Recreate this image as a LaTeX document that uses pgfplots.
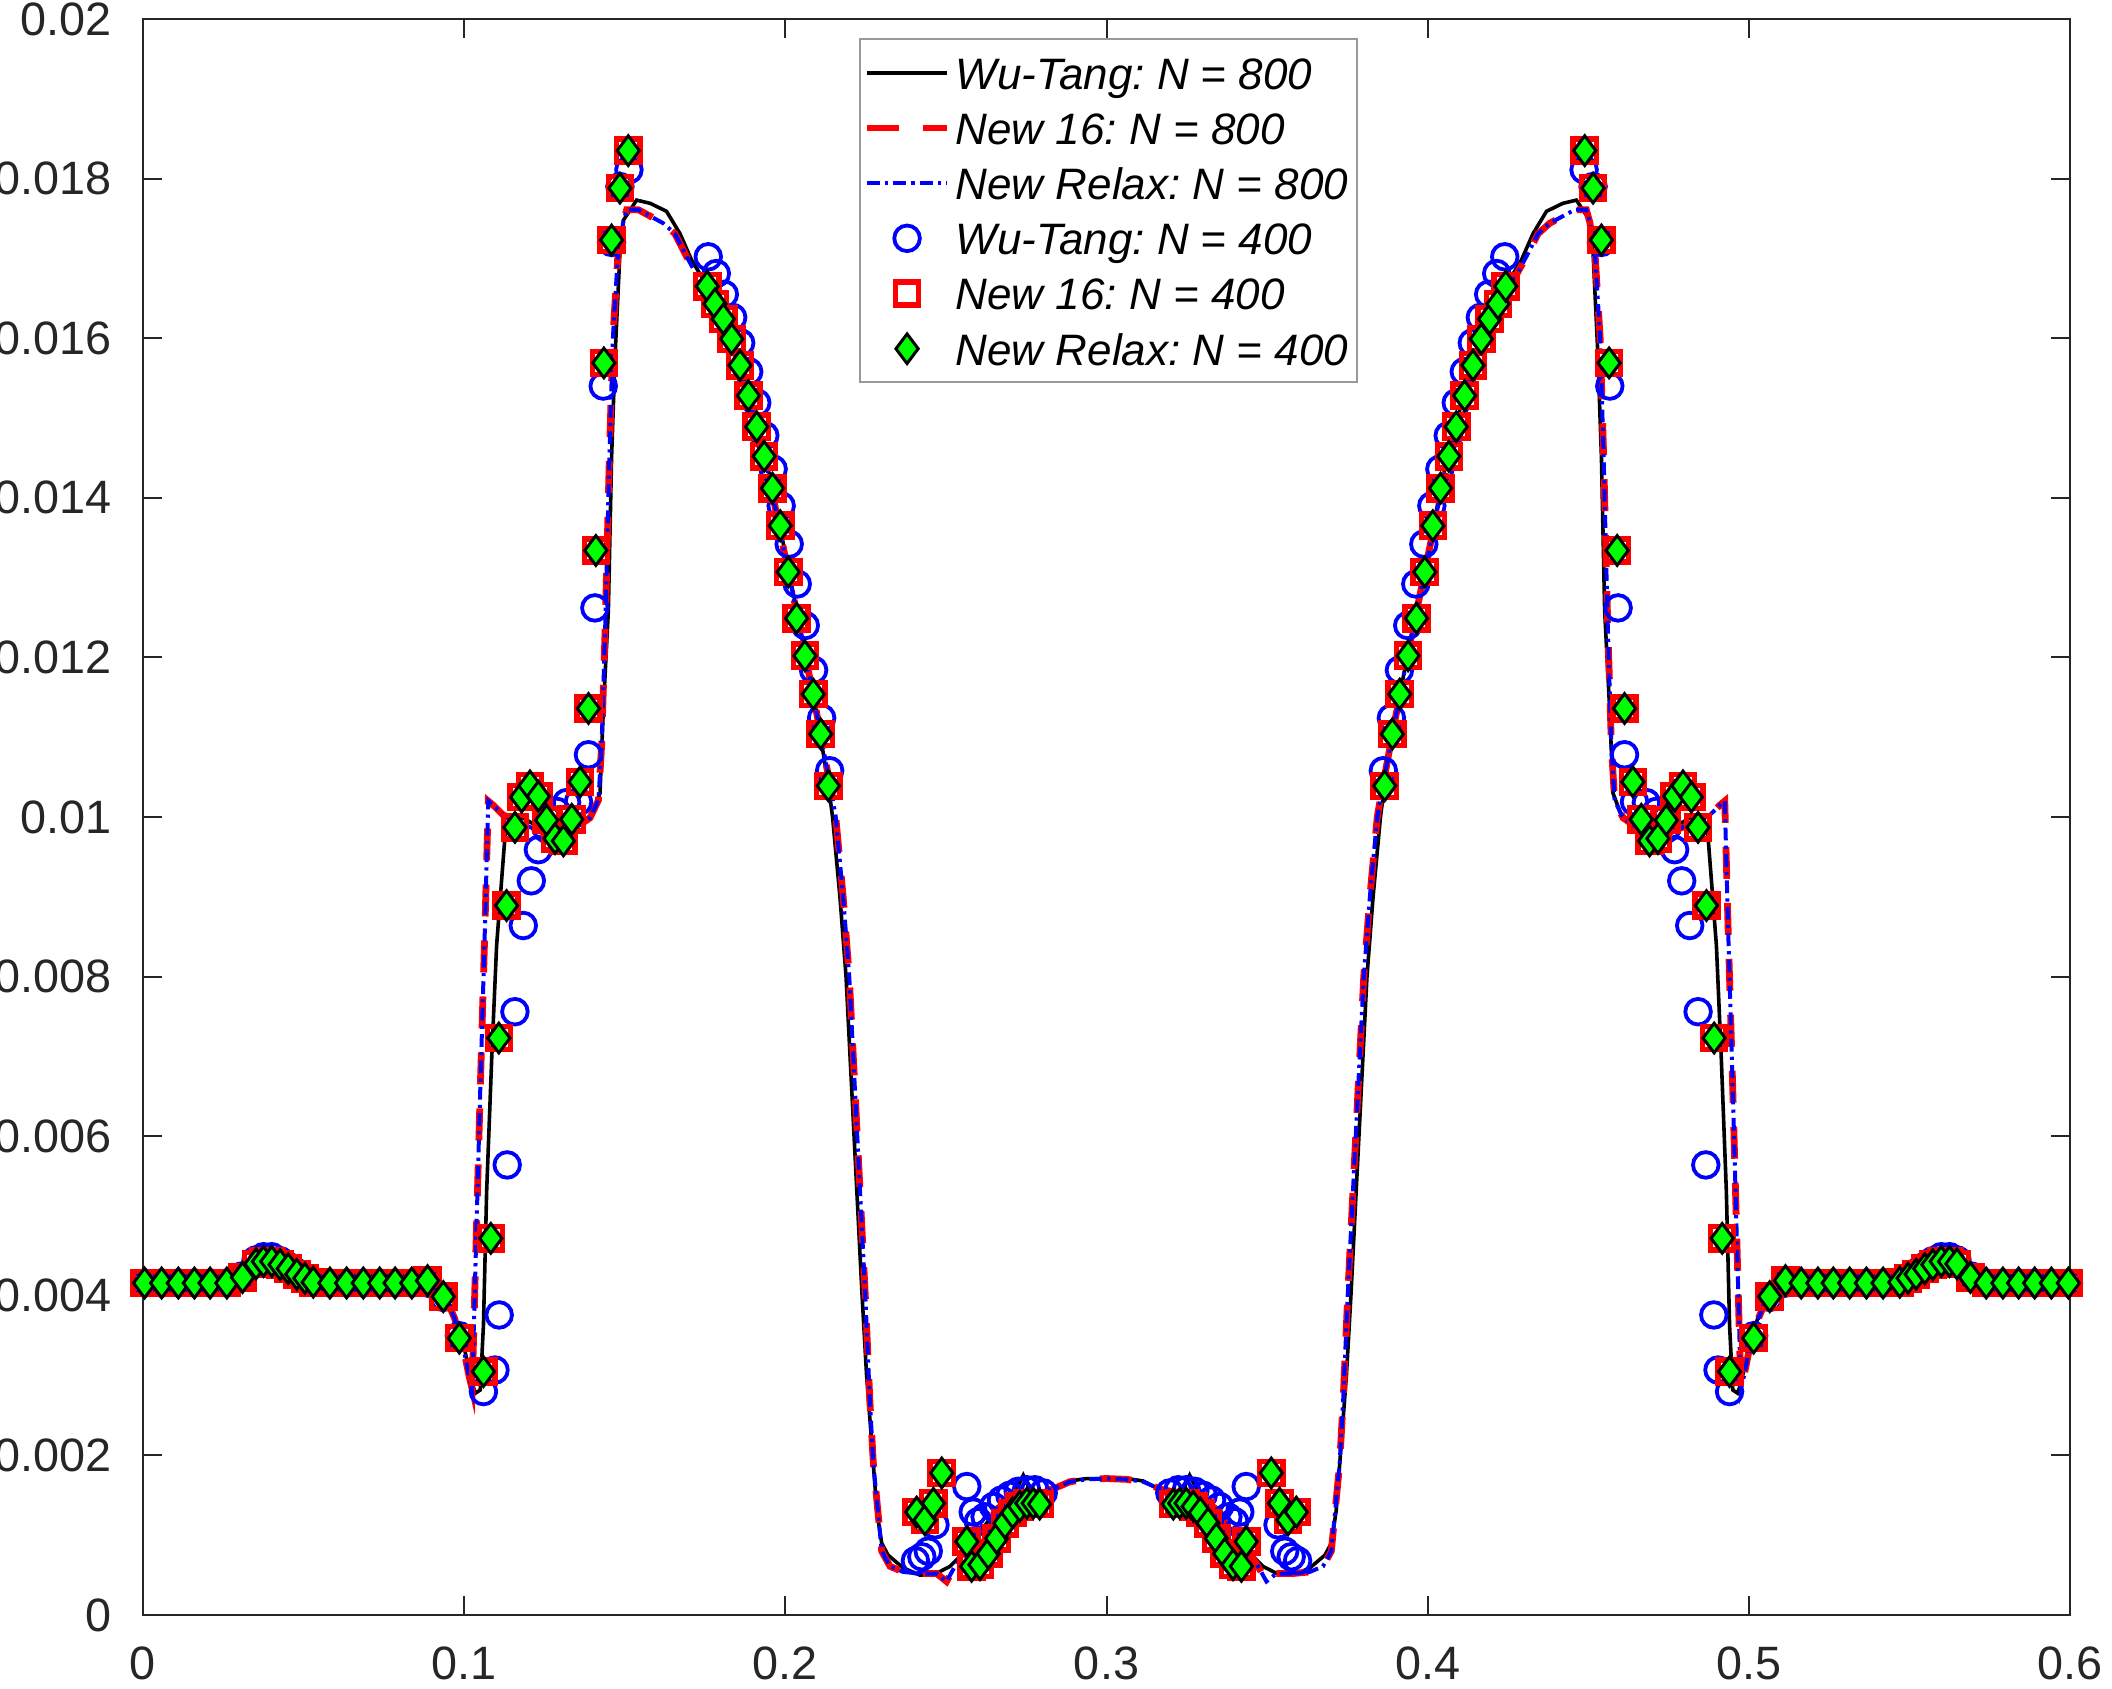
\documentclass[border=0pt]{standalone}
\usepackage{pgfplots}
\pgfplotsset{compat=1.18}
\usepackage{pgfplotstable}
\usepackage{fontspec}
\setmainfont{Liberation Sans}

\definecolor{axgray}{gray}{0.15}
\definecolor{leggray}{gray}{0.6}
\definecolor{mblue}{rgb}{0,0,1}
\definecolor{mred}{rgb}{1,0,0}
\definecolor{mgreen}{rgb}{0,1,0}

% Wu-Tang scheme, N = 800
\pgfplotstableread{
x y
0 0.00416
0.028 0.00416
0.031 0.00420
0.034 0.00437
0.037 0.00449
0.040 0.00450
0.043 0.00443
0.046 0.00433
0.049 0.00425
0.052 0.00419
0.055 0.00416
0.088 0.00416
0.091 0.00413
0.094 0.00400
0.097 0.00375
0.100 0.00335
0.1025 0.00290
0.1035 0.00278
0.1050 0.00282
0.1060 0.00363
0.1070 0.00531
0.1086 0.00700
0.1101 0.00839
0.1117 0.00923
0.1127 0.00975
0.1140 0.00998
0.1170 0.01002
0.1200 0.00995
0.1240 0.00985
0.1280 0.00978
0.1320 0.00980
0.1360 0.00990
0.1400 0.01005
0.1423 0.01030
0.1433 0.01132
0.1449 0.01259
0.1459 0.01451
0.1470 0.01579
0.1485 0.01707
0.1496 0.01748
0.1537 0.01773
0.1579 0.01769
0.1630 0.01759
0.1672 0.01731
0.1708 0.01698
0.1750 0.01670
0.1800 0.01630
0.1850 0.01580
0.1900 0.01510
0.1950 0.01430
0.2000 0.01330
0.2050 0.01230
0.2100 0.01125
0.2134 0.01040
0.2147 0.01000
0.2170 0.00900
0.2189 0.00800
0.2214 0.00600
0.2239 0.00400
0.2253 0.00300
0.2270 0.00210
0.2285 0.00130
0.2300 0.00090
0.2320 0.00075
0.2367 0.00059
0.2419 0.00050
0.2460 0.00050
0.2513 0.00061
0.2560 0.00080
0.2600 0.00100
0.2650 0.00128
0.2700 0.00150
0.2725 0.00162
0.2741 0.00175
0.2760 0.00158
0.2800 0.00153
0.2834 0.00157
0.2886 0.00168
0.2938 0.00171
0.3000 0.00171
0.3062 0.00171
0.3114 0.00168
0.3166 0.00157
0.3200 0.00153
0.3240 0.00158
0.3259 0.00175
0.3275 0.00162
0.3300 0.00150
0.3350 0.00128
0.3400 0.00100
0.3440 0.00080
0.3487 0.00061
0.3540 0.00050
0.3581 0.00050
0.3633 0.00059
0.3680 0.00075
0.3700 0.00090
0.3715 0.00130
0.3730 0.00210
0.3747 0.00300
0.3761 0.00400
0.3786 0.00600
0.3811 0.00800
0.3830 0.00900
0.3853 0.01000
0.3866 0.01040
0.3900 0.01125
0.3950 0.01230
0.4000 0.01330
0.4050 0.01430
0.4100 0.01510
0.4150 0.01580
0.4200 0.01630
0.4250 0.01670
0.4292 0.01698
0.4328 0.01731
0.4370 0.01759
0.4421 0.01769
0.4463 0.01773
0.4504 0.01748
0.4515 0.01707
0.4530 0.01579
0.4541 0.01451
0.4551 0.01259
0.4567 0.01132
0.4577 0.01030
0.4600 0.01005
0.4640 0.00990
0.4680 0.00980
0.4720 0.00978
0.4760 0.00985
0.4800 0.00995
0.4830 0.01002
0.4860 0.00998
0.4873 0.00975
0.4883 0.00923
0.4899 0.00839
0.4914 0.00700
0.4930 0.00531
0.4940 0.00363
0.4950 0.00282
0.4965 0.00278
0.4975 0.00290
0.5000 0.00335
0.5030 0.00375
0.5060 0.00400
0.5090 0.00413
0.5120 0.00416
0.5450 0.00416
0.5480 0.00419
0.5510 0.00425
0.5540 0.00433
0.5570 0.00443
0.5600 0.00450
0.5630 0.00449
0.5660 0.00437
0.5690 0.00420
0.5720 0.00416
0.6000 0.00416
}\wuFine

% New schemes (16 and Relax), N = 800
\pgfplotstableread{
x y
0 0.00416
0.028 0.00416
0.031 0.00420
0.034 0.00437
0.037 0.00449
0.040 0.00450
0.043 0.00443
0.046 0.00433
0.049 0.00425
0.052 0.00419
0.055 0.00416
0.088 0.00416
0.091 0.00412
0.094 0.00400
0.097 0.00372
0.100 0.00330
0.1015 0.00300
0.1025 0.00283
0.1034 0.00420
0.1049 0.00643
0.1065 0.00867
0.1075 0.01020
0.1090 0.01015
0.1120 0.01003
0.1160 0.00995
0.1200 0.00988
0.1240 0.00982
0.1280 0.00975
0.1320 0.00978
0.1360 0.00990
0.1392 0.00999
0.1418 0.01021
0.1428 0.01090
0.1440 0.01250
0.1452 0.01450
0.1463 0.01600
0.1478 0.01700
0.1495 0.01745
0.1506 0.01761
0.1542 0.01761
0.1620 0.01744
0.1656 0.01731
0.1693 0.01702
0.1750 0.01660
0.1800 0.01625
0.1850 0.01575
0.1900 0.01505
0.1950 0.01425
0.2000 0.01325
0.2050 0.01228
0.2100 0.01125
0.2144 0.01030
0.2157 0.01000
0.2180 0.00900
0.2199 0.00800
0.2224 0.00600
0.2249 0.00400
0.2263 0.00270
0.2274 0.00190
0.2300 0.00080
0.2326 0.00061
0.2367 0.00054
0.2420 0.00052
0.2471 0.00052
0.2502 0.00042
0.2528 0.00061
0.2560 0.00080
0.2600 0.00105
0.2650 0.00130
0.2700 0.00145
0.2750 0.00152
0.2800 0.00155
0.2834 0.00158
0.2886 0.00167
0.2938 0.00170
0.3000 0.00171
0.3062 0.00170
0.3114 0.00167
0.3166 0.00158
0.3200 0.00155
0.3250 0.00152
0.3300 0.00145
0.3350 0.00130
0.3400 0.00105
0.3440 0.00080
0.3472 0.00061
0.3498 0.00042
0.3529 0.00052
0.3580 0.00052
0.3633 0.00054
0.3674 0.00061
0.3700 0.00080
0.3726 0.00190
0.3737 0.00270
0.3751 0.00400
0.3776 0.00600
0.3801 0.00800
0.3820 0.00900
0.3843 0.01000
0.3856 0.01030
0.3900 0.01125
0.3950 0.01228
0.4000 0.01325
0.4050 0.01425
0.4100 0.01505
0.4150 0.01575
0.4200 0.01625
0.4250 0.01660
0.4307 0.01702
0.4344 0.01731
0.4380 0.01744
0.4458 0.01761
0.4494 0.01761
0.4505 0.01745
0.4522 0.01700
0.4537 0.01600
0.4548 0.01450
0.4560 0.01250
0.4572 0.01090
0.4582 0.01021
0.4608 0.00999
0.4640 0.00990
0.4680 0.00978
0.4720 0.00975
0.4760 0.00982
0.4800 0.00988
0.4840 0.00995
0.4880 0.01003
0.4910 0.01015
0.4925 0.01020
0.4935 0.00867
0.4951 0.00643
0.4966 0.00420
0.4975 0.00283
0.4985 0.00300
0.5000 0.00330
0.5030 0.00372
0.5060 0.00400
0.5090 0.00412
0.5120 0.00416
0.5450 0.00416
0.5480 0.00419
0.5510 0.00425
0.5540 0.00433
0.5570 0.00443
0.5600 0.00450
0.5630 0.00449
0.5660 0.00437
0.5690 0.00420
0.5720 0.00416
0.6000 0.00416
}\newFine

% Wu-Tang scheme, N = 400 (moving mesh nodes)
\pgfplotstableread{
x y
0.0005 0.00416
0.0058 0.00416
0.0110 0.00416
0.0160 0.00416
0.0209 0.00416
0.0261 0.00416
0.0310 0.00425
0.0352 0.00445
0.0375 0.00449
0.0401 0.00449
0.0427 0.00444
0.0452 0.00437
0.0479 0.00429
0.0504 0.00423
0.0530 0.00418
0.0582 0.00416
0.0634 0.00416
0.0686 0.00416
0.0737 0.00416
0.0785 0.00416
0.0837 0.00416
0.0886 0.00416
0.0935 0.00398
0.0985 0.00350
0.1060 0.00280
0.1096 0.00307
0.1109 0.00376
0.1134 0.00564
0.1158 0.00756
0.1184 0.00864
0.1209 0.00920
0.1231 0.00959
0.1257 0.00985
0.1288 0.01007
0.1319 0.01018
0.1356 0.01019
0.1387 0.01078
0.1407 0.01262
0.1433 0.01540
0.1459 0.01720
0.1485 0.01790
0.1513 0.01811
0.1760 0.01702
0.1785 0.01681
0.1810 0.01655
0.1836 0.01626
0.1861 0.01594
0.1886 0.01558
0.1911 0.01519
0.1936 0.01478
0.1962 0.01436
0.1987 0.01390
0.2012 0.01342
0.2037 0.01292
0.2062 0.01240
0.2088 0.01184
0.2113 0.01124
0.2138 0.01058
0.2405 0.00068
0.2425 0.00073
0.2445 0.00080
0.2466 0.00113
0.2565 0.00161
0.2585 0.00129
0.2601 0.00117
0.2622 0.00123
0.2648 0.00136
0.2673 0.00144
0.2699 0.00150
0.2725 0.00155
0.2751 0.00157
0.2777 0.00157
0.2803 0.00153
0.3197 0.00153
0.3223 0.00157
0.3249 0.00157
0.3275 0.00155
0.3301 0.00150
0.3327 0.00144
0.3352 0.00136
0.3378 0.00123
0.3399 0.00117
0.3415 0.00129
0.3435 0.00161
0.3534 0.00113
0.3555 0.00080
0.3575 0.00073
0.3595 0.00068
0.3862 0.01058
0.3887 0.01124
0.3912 0.01184
0.3938 0.01240
0.3963 0.01292
0.3988 0.01342
0.4013 0.01390
0.4038 0.01436
0.4064 0.01478
0.4089 0.01519
0.4114 0.01558
0.4139 0.01594
0.4164 0.01626
0.4190 0.01655
0.4215 0.01681
0.4240 0.01702
0.4487 0.01811
0.4515 0.01790
0.4541 0.01720
0.4567 0.01540
0.4593 0.01262
0.4613 0.01078
0.4644 0.01019
0.4681 0.01018
0.4712 0.01007
0.4743 0.00985
0.4769 0.00959
0.4791 0.00920
0.4816 0.00864
0.4842 0.00756
0.4866 0.00564
0.4891 0.00376
0.4904 0.00307
0.4940 0.00280
0.5015 0.00350
0.5065 0.00398
0.5114 0.00416
0.5163 0.00416
0.5215 0.00416
0.5263 0.00416
0.5314 0.00416
0.5366 0.00416
0.5418 0.00416
0.5470 0.00418
0.5496 0.00423
0.5521 0.00429
0.5548 0.00437
0.5573 0.00444
0.5599 0.00449
0.5625 0.00449
0.5648 0.00445
0.5690 0.00425
0.5739 0.00416
0.5791 0.00416
0.5840 0.00416
0.5890 0.00416
0.5942 0.00416
0.5995 0.00416
}\wuCoarse

% New schemes (16 and Relax), N = 400 (moving mesh nodes)
\pgfplotstableread{
x y
0.0005 0.00416
0.0058 0.00416
0.0110 0.00416
0.0160 0.00416
0.0209 0.00416
0.0261 0.00416
0.0310 0.00423
0.0352 0.00440
0.0375 0.00443
0.0401 0.00443
0.0427 0.00439
0.0452 0.00434
0.0479 0.00427
0.0504 0.00422
0.0530 0.00417
0.0582 0.00416
0.0634 0.00416
0.0686 0.00416
0.0737 0.00416
0.0785 0.00416
0.0837 0.00416
0.0886 0.00419
0.0935 0.00399
0.0985 0.00347
0.1060 0.00305
0.1083 0.00472
0.1108 0.00723
0.1132 0.00889
0.1158 0.00987
0.1179 0.01025
0.1205 0.01039
0.1231 0.01026
0.1257 0.00996
0.1283 0.00973
0.1309 0.00970
0.1335 0.00997
0.1361 0.01044
0.1387 0.01136
0.1410 0.01334
0.1435 0.01569
0.1459 0.01723
0.1485 0.01788
0.1511 0.01835
0.1757 0.01665
0.1781 0.01643
0.1807 0.01624
0.1833 0.01599
0.1859 0.01566
0.1885 0.01528
0.1911 0.01489
0.1934 0.01452
0.1960 0.01412
0.1984 0.01365
0.2009 0.01307
0.2035 0.01249
0.2061 0.01202
0.2087 0.01154
0.2110 0.01104
0.2134 0.01039
0.2409 0.00129
0.2435 0.00119
0.2461 0.00140
0.2487 0.00178
0.2565 0.00092
0.2580 0.00061
0.2606 0.00063
0.2632 0.00077
0.2658 0.00096
0.2684 0.00115
0.2708 0.00128
0.2730 0.00136
0.2752 0.00140
0.2772 0.00140
0.2792 0.00139
0.3208 0.00139
0.3228 0.00140
0.3248 0.00140
0.3270 0.00136
0.3292 0.00128
0.3316 0.00115
0.3342 0.00096
0.3368 0.00077
0.3394 0.00063
0.3420 0.00061
0.3435 0.00092
0.3513 0.00178
0.3539 0.00140
0.3565 0.00119
0.3591 0.00129
0.3866 0.01039
0.3890 0.01104
0.3913 0.01154
0.3939 0.01202
0.3965 0.01249
0.3991 0.01307
0.4016 0.01365
0.4040 0.01412
0.4066 0.01452
0.4089 0.01489
0.4115 0.01528
0.4141 0.01566
0.4167 0.01599
0.4193 0.01624
0.4219 0.01643
0.4243 0.01665
0.4489 0.01835
0.4515 0.01788
0.4541 0.01723
0.4565 0.01569
0.4590 0.01334
0.4613 0.01136
0.4639 0.01044
0.4665 0.00997
0.4691 0.00970
0.4717 0.00973
0.4743 0.00996
0.4769 0.01026
0.4795 0.01039
0.4821 0.01025
0.4842 0.00987
0.4868 0.00889
0.4892 0.00723
0.4917 0.00472
0.4940 0.00305
0.5015 0.00347
0.5065 0.00399
0.5114 0.00419
0.5163 0.00416
0.5215 0.00416
0.5263 0.00416
0.5314 0.00416
0.5366 0.00416
0.5418 0.00416
0.5470 0.00417
0.5496 0.00422
0.5521 0.00427
0.5548 0.00434
0.5573 0.00439
0.5599 0.00443
0.5625 0.00443
0.5648 0.00440
0.5690 0.00423
0.5739 0.00416
0.5791 0.00416
0.5840 0.00416
0.5890 0.00416
0.5942 0.00416
0.5995 0.00416
}\newCoarse

\pgfplotsset{
  legimg/.style={legend image code/.code={%
    \draw[mark repeat=2,mark phase=2,##1] plot coordinates {(0pt,0pt) (10pt,0pt) (20pt,0pt)};}},
}

\begin{document}
\frenchspacing
\begin{tikzpicture}
\begin{axis}[
  name=ax,
  scale only axis,
  width=481.75pt, height=399pt,
  xmin=0, xmax=0.6, ymin=0, ymax=0.02,
  clip=false,
  xtick={0,0.1,0.2,0.3,0.4,0.5,0.6},
  ytick={0,0.002,0.004,0.006,0.008,0.01,0.012,0.014,0.016,0.018,0.02},
  scaled x ticks=false, scaled y ticks=false,
  xticklabel style={/pgf/number format/fixed, /pgf/number format/precision=3, yshift=-4.35pt},
  yticklabel style={/pgf/number format/fixed, /pgf/number format/precision=3, xshift=-4.3pt},
  /pgf/number format/assume math mode=true,
  tick label style={font=\fontsize{11.7}{14}\selectfont, text=axgray},
  tick align=inside,
  major tick length=4.8pt,
  tick style={axgray, line width=0.5pt},
  axis line style={axgray, line width=0.5pt},
  legend cell align=left,
  legend style={
    at={(rel axis cs:0.3716,0.988)}, anchor=north west,
    draw=leggray, line width=0.5pt, fill=white,
    font=\fontsize{11}{13}\selectfont\itshape,
    inner xsep=0.9pt, inner ysep=3.3pt,
    row sep=3.6pt,
    nodes={inner xsep=1.3pt, inner ysep=0pt, text height=9.2pt, text depth=1pt},
  },
]
\addplot[black, line width=0.9pt, no markers, legimg] table {\wuFine};
\addlegendentry{Wu-Tang: N = 800}
\addplot[mred, line width=1.7pt, no markers, dash pattern=on 8pt off 6pt, legimg] table {\newFine};
\addlegendentry{New 16: N = 800}
\addplot[mblue, line width=1pt, no markers, dash pattern=on 3.2pt off 1.3pt on 0.8pt off 1.3pt, legimg] table {\newFine};
\addlegendentry{New Relax: N = 800}
\addplot[only marks, mark=o, mark size=3.2pt, mblue, mark options={line width=0.95pt}, legimg] table {\wuCoarse};
\addlegendentry{Wu-Tang: N = 400}
\addplot[only marks, mark=square, mark size=2.9pt, mred, mark options={line width=1.35pt}, legimg] table {\newCoarse};
\addlegendentry{New 16: N = 400}
\addplot[only marks, mark=diamond*, mark size=3.7pt, mark options={fill=mgreen, draw=black, line width=0.75pt}, legimg] table {\newCoarse};
\addlegendentry{New Relax: N = 400}
\end{axis}
\pgfresetboundingbox
\useasboundingbox ([xshift=-35.75pt,yshift=-18.25pt]ax.south west) rectangle ([xshift=10.5pt,yshift=4.75pt]ax.north east);
\end{tikzpicture}
\end{document}
